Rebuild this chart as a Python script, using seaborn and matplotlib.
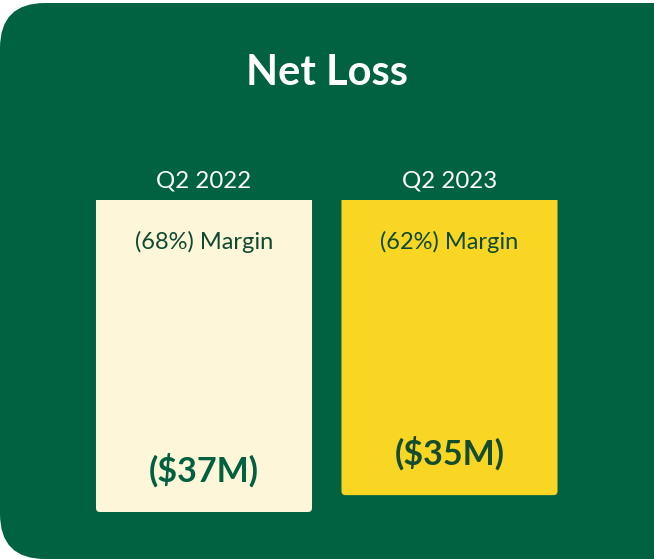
import matplotlib
matplotlib.use("Agg")
import matplotlib.pyplot as plt
from matplotlib.patches import FancyBboxPatch, Rectangle
import seaborn as sns
import pandas as pd

# data
quarters = ["Q2 2022", "Q2 2023"]
net_loss = [37, 35]  # $M
margins = ["(68%) Margin", "(62%) Margin"]
value_labels = ["($37M)", "($35M)"]

GREEN = "#006241"
bar_colors = ["#FDF6D9", "#F8D623"]
value_colors = ["#00603F", "#154B2E"]
MARGIN_COLOR = "#0E4A30"

sns.set_theme(style="white")
plt.rcParams["font.family"] = ["Lato", "DejaVu Sans"]

W, H = 654, 559
fig = plt.figure(figsize=(W / 100, H / 100), dpi=100)
fig.patch.set_facecolor("white")

# background panel in pixel coords
bg = fig.add_axes([0, 0, 1, 1])
bg.set_xlim(0, W)
bg.set_ylim(H, 0)
bg.axis("off")
bg.add_patch(FancyBboxPatch((0, 3), 760, 556, boxstyle="round,pad=0,rounding_size=45",
                            fc=GREEN, ec="none"))
bg.text(W / 2, 73, "Net Loss", color="white", fontsize=30, fontweight="bold",
        ha="center", va="center")

# bar axes: top of bars at y=200px, 37 -> 512px
top, bottom = 200, 512
left, right = 81.25, 572.25
ax = fig.add_axes([left / W, 1 - bottom / H, (right - left) / W, (bottom - top) / H])
ax.patch.set_alpha(0)

df = pd.DataFrame({"quarter": quarters, "loss": net_loss})
sns.barplot(data=df, x="quarter", y="loss", hue="quarter", palette=bar_colors,
            width=0.88, legend=False, ax=ax, saturation=1)
ax.set_xlim(-0.5, 1.5)
ax.set_ylim(max(net_loss), 0)
ax.axis("off")
ax.set_zorder(2)

# redraw bars with rounded bottom corners only (square top via clipping)
fig.canvas.draw()
to_px = ax.transData + bg.transData.inverted()
for p in list(ax.patches):
    (x0, y0), (x1, y1) = to_px.transform([(p.get_x(), p.get_y()),
                                          (p.get_x() + p.get_width(), p.get_y() + p.get_height())])
    xa, xb = sorted([x0, x1])
    ya, yb = sorted([y0, y1])
    c = p.get_facecolor()
    p.set_visible(False)
    rb = FancyBboxPatch((xa, ya - 10), xb - xa, yb - ya + 10,
                        boxstyle="round,pad=0,rounding_size=4", fc=c, ec="none")
    bg.add_patch(rb)
    clip = Rectangle((xa - 2, ya), xb - xa + 4, yb - ya + 4, transform=bg.transData)
    rb.set_clip_path(clip)

px_y = (bottom - top) / max(net_loss)
for i, q in enumerate(quarters):
    ax.text(i, -19 / px_y, q, color="white", fontsize=17.3, ha="center", va="center",
            clip_on=False)
    ax.text(i, 42 / px_y, margins[i], color=MARGIN_COLOR, fontsize=17,
            ha="center", va="center")
    ax.text(i, net_loss[i] - 42 / px_y, value_labels[i], color=value_colors[i],
            fontsize=24.5, fontweight="bold", ha="center", va="center")

fig.savefig("out.png", dpi=100)
